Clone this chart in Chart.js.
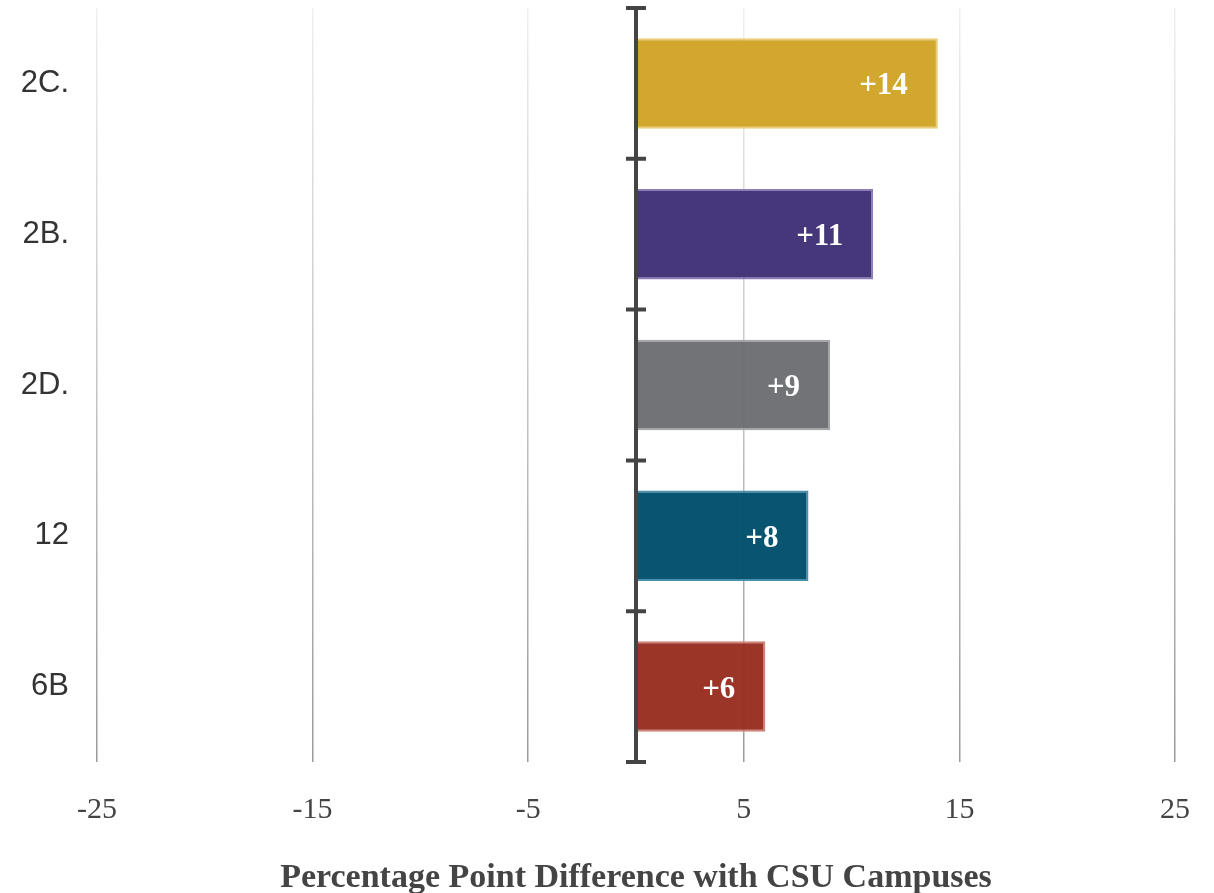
<!DOCTYPE html>
<html>
<head>
<meta charset="utf-8">
<script src="https://cdn.jsdelivr.net/npm/chart.js@4"></script>
<style>
  html, body { margin: 0; padding: 0; background: #fff; }
  #wrap { width: 1214px; height: 893px; }
</style>
</head>
<body>
<div id="wrap"><canvas id="chrt"></canvas></div>
<script>
var categories = ['2C.', '2B.', '2D.', '12', '6B'];
var values = [14, 11, 9, 8, 6];
var barColors = ['rgba(208,162,34,0.95)', 'rgba(64,48,118,0.97)', 'rgba(106,107,111,0.95)', 'rgba(0,78,108,0.97)', 'rgba(152,46,32,0.97)'];
var barBorders = ['#e9cd78', '#8a7db8', '#a4a5a9', '#4a8fab', '#cf8378'];
var xTicks = [-25, -15, -5, 5, 15, 25];
var xMin = -25, xMax = 25;
var axisTitle = 'Percentage Point Difference with CSU Campuses';

// zero line with the little category ticks
var zeroAxis = {
	id: 'zeroAxis',
	afterDatasetsDraw: function (chart) {
		var ctx = chart.ctx, x = chart.scales.x, y = chart.scales.y;
		var x0 = x.getPixelForValue(0);
		var top = chart.chartArea.top, bottom = chart.chartArea.bottom;
		ctx.save();
		ctx.strokeStyle = '#444';
		ctx.lineWidth = 4;
		ctx.beginPath();
		ctx.moveTo(x0, top);
		ctx.lineTo(x0, bottom);
		var marks = [top];
		for (var i = 0; i < categories.length - 1; i++) {
			marks.push((y.getPixelForValue(i) + y.getPixelForValue(i + 1)) / 2);
		}
		marks.push(bottom);
		marks.forEach(function (m) {
			ctx.moveTo(x0 - 10, m);
			ctx.lineTo(x0 + 10, m);
		});
		ctx.stroke();
		ctx.restore();
	}
};

// value labels inside the bar end
var barLabels = {
	id: 'barLabels',
	afterDatasetsDraw: function (chart) {
		var ctx = chart.ctx;
		var meta = chart.getDatasetMeta(0);
		ctx.save();
		ctx.fillStyle = '#fff';
		ctx.font = 'bold 31px "Liberation Serif", serif';
		ctx.textAlign = 'right';
		ctx.textBaseline = 'middle';
		meta.data.forEach(function (bar, i) {
			ctx.fillText('+' + values[i], bar.x - 30, bar.y + 3);
		});
		ctx.restore();
	}
};

function gridColor(c) {
	var a = c.chart.chartArea;
	if (!a) return '#ccc';
	var g = c.chart.ctx.createLinearGradient(0, a.top, 0, a.bottom);
	g.addColorStop(0, '#efefef');
	g.addColorStop(1, '#9a9a9a');
	return g;
}

const ctx2 = document.getElementById('chrt').getContext('2d');
new Chart(ctx2, {
	type: 'bar',
	data: {
		labels: categories,
		datasets: [{
			data: values,
			backgroundColor: barColors,
			borderColor: barBorders,
			borderWidth: 2,
			barPercentage: 0.6,
			categoryPercentage: 1
		}]
	},
	plugins: [zeroAxis, barLabels],
	options: {
		indexAxis: 'y',
		responsive: true,
		maintainAspectRatio: false,
		animation: false,
		layout: { padding: { top: 8, right: 39, left: 0, bottom: 0 } },
		plugins: {
			legend: { display: false },
			tooltip: { enabled: false }
		},
		scales: {
			x: {
				min: xMin,
				max: xMax,
				afterBuildTicks: function (s) {
					s.ticks = xTicks.map(function (v) { return { value: v }; });
				},
				afterFit: function (s) {
					s.height = 131;
					s.paddingLeft = 0;
					s.paddingRight = 0;
				},
				border: { display: false },
				grid: {
					color: gridColor,
					lineWidth: 1.5,
					drawTicks: false
				},
				ticks: {
					padding: 30,
					color: '#444',
					font: { family: '"Liberation Serif", serif', size: 30 }
				},
				title: {
					display: true,
					text: axisTitle,
					color: '#444',
					padding: { top: 14, bottom: -6 },
					font: { family: '"Liberation Serif", serif', size: 34, weight: 'bold' }
				}
			},
			y: {
				afterFit: function (s) {
					s.width = 97;
					s.paddingTop = 0;
					s.paddingBottom = 0;
				},
				border: { display: false },
				grid: { display: false, drawTicks: false },
				ticks: {
					padding: 28,
					color: '#333',
					font: { family: '"Liberation Sans", Arial, sans-serif', size: 31 }
				}
			}
		}
	}
});
</script>
</body>
</html>
